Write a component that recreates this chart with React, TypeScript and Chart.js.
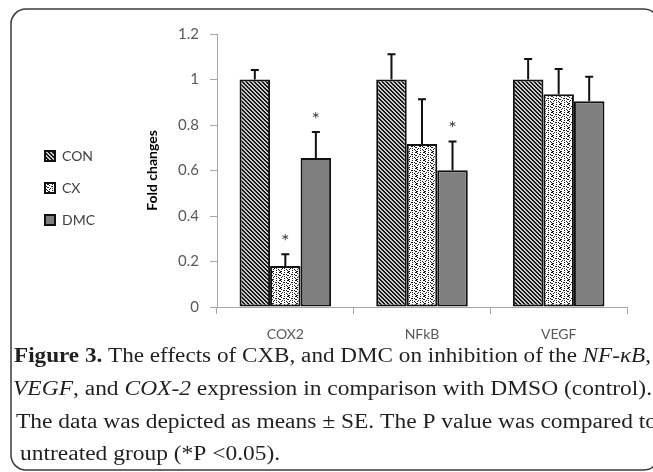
import React, { useEffect, useRef } from "react";
import { Chart, registerables } from "chart.js";

Chart.register(...registerables);

// ---------- data ----------
const categories = ["COX2", "NFkB", "VEGF"];
const seriesNames = ["CON", "CX", "DMC"];
const conValues = [1.0, 1.0, 1.0];
const cxValues = [0.18, 0.716, 0.935];
const dmcValues = [0.655, 0.601, 0.904];
const conErrors = [0.042, 0.111, 0.09];
const cxErrors = [0.052, 0.197, 0.111];
const dmcErrors = [0.114, 0.127, 0.108];
const conSignificant = [false, false, false];
const cxSignificant = [true, false, false];
const dmcSignificant = [true, true, false];
const yTickLabels = ["0", "0.2", "0.4", "0.6", "0.8", "1", "1.2"];
const yTitle = "Fold changes";

type Seg = { text: string; bold?: boolean; italic?: boolean };
const captionLine1: Seg[] = [
  { text: "Figure 3.", bold: true },
  { text: " The effects of CXB, and DMC on inhibition of the " },
  { text: "NF-\u03BAB", italic: true },
  { text: "," },
];
const captionLine2: Seg[] = [
  { text: "VEGF", italic: true },
  { text: ", and " },
  { text: "COX-2", italic: true },
  { text: " expression in comparison with DMSO (control)." },
];
const captionLine3: Seg[] = [
  { text: "The data was depicted as means \u00B1 SE. The P value was compared to" },
];
const captionLine4: Seg[] = [{ text: "untreated group (*P <0.05)." }];
const captionLines = [captionLine1, captionLine2, captionLine3, captionLine4];

// ---------- styling / layout (not data) ----------
const W = 653;
const H = 472;
const captionPlacement = [
  { left: 14, right: 651, baseline: 362 },
  { left: 13, right: 652, baseline: 395 },
  { left: 16, right: 657, baseline: 428 },
  { left: 20, right: 0, baseline: 460 },
];
const CAPTION_SIZE = 20;
const SERIF = "'Liberation Serif', 'Times New Roman', serif";
const SANS = "Lato, 'Open Sans', sans-serif";

function makePattern(ctx: CanvasRenderingContext2D, rows: string[], fg: string, bg: string) {
  const c = document.createElement("canvas");
  c.width = rows[0].length;
  c.height = rows.length;
  const g = c.getContext("2d")!;
  g.fillStyle = bg;
  g.fillRect(0, 0, c.width, c.height);
  g.fillStyle = fg;
  rows.forEach((r, y) =>
    r.split("").forEach((ch, x) => {
      if (ch === "X") g.fillRect(x, y, 1, 1);
    })
  );
  return ctx.createPattern(c, "repeat") as CanvasPattern;
}

function fontFor(seg: Seg) {
  return `${seg.italic ? "italic " : ""}${seg.bold ? "bold " : ""}${CAPTION_SIZE}px ${SERIF}`;
}

const framePlugin = {
  id: "frame",
  beforeDraw(chart: any) {
    const ctx = chart.ctx as CanvasRenderingContext2D;
    ctx.save();
    ctx.fillStyle = "#ffffff";
    ctx.fillRect(0, 0, W, H);
    ctx.strokeStyle = "#3a3a3a";
    ctx.lineWidth = 1.5;
    ctx.beginPath();
    (ctx as any).roundRect(11, 9, 648, 461, 15);
    ctx.stroke();
    ctx.restore();
  },
};

const errorBarPlugin = {
  id: "errorBars",
  afterDatasetsDraw(chart: any) {
    const ctx = chart.ctx as CanvasRenderingContext2D;
    const yScale = chart.scales.y;
    const errs = [conErrors, cxErrors, dmcErrors];
    const sig = [conSignificant, cxSignificant, dmcSignificant];
    const vals = [conValues, cxValues, dmcValues];
    ctx.save();
    chart.data.datasets.forEach((ds: any, di: number) => {
      const meta = chart.getDatasetMeta(di);
      meta.data.forEach((bar: any, i: number) => {
        const v = vals[di][i];
        const e = errs[di][i];
        const yTop = yScale.getPixelForValue(v + e);
        const yBar = yScale.getPixelForValue(v);
        ctx.strokeStyle = "#111";
        ctx.lineWidth = 2;
        ctx.beginPath();
        ctx.moveTo(bar.x, yBar);
        ctx.lineTo(bar.x, yTop);
        ctx.moveTo(bar.x - 4, yTop);
        ctx.lineTo(bar.x + 4, yTop);
        ctx.stroke();
        if (sig[di][i]) {
          ctx.fillStyle = "#404040";
          ctx.font = `20px ${SANS}`;
          ctx.textAlign = "center";
          ctx.textBaseline = "alphabetic";
          ctx.fillText("*", bar.x, yTop - 6);
        }
      });
    });
    ctx.restore();
  },
};

const captionPlugin = {
  id: "caption",
  afterDraw(chart: any) {
    const ctx = chart.ctx as CanvasRenderingContext2D;
    ctx.save();
    ctx.fillStyle = "#231f20";
    ctx.textBaseline = "alphabetic";
    ctx.textAlign = "left";
    let lastScale = 1;
    captionLines.forEach((segs, li) => {
      const place = captionPlacement[li];
      const widths = segs.map((s) => {
        ctx.font = fontFor(s);
        return ctx.measureText(s.text).width;
      });
      const total = widths.reduce((a, b) => a + b, 0);
      const sc = place.right ? (place.right - place.left) / total : lastScale;
      lastScale = sc;
      ctx.save();
      ctx.translate(place.left, place.baseline);
      ctx.scale(sc, 1);
      let x = 0;
      segs.forEach((s, i) => {
        ctx.font = fontFor(s);
        ctx.fillText(s.text, x, 0);
        x += widths[i];
      });
      ctx.restore();
    });
    ctx.restore();
  },
};

export default function App() {
  const ref = useRef<HTMLCanvasElement>(null);
  useEffect(() => {
    const canvas = ref.current!;
    const ctx = canvas.getContext("2d")!;
    const conPattern = makePattern(ctx, ["XX..", ".XX.", "..XX", "X..X"], "#1a1a1a", "#c8c8c8");
    const cxPattern = makePattern(
      ctx,
      ["X...X..X", ".X......", "...XX.X.", "X......X", "..X.X...", ".X....X.", "....X..X", "XX......"],
      "#1a1a1a",
      "#ffffff"
    );
    const dmcFill = "#7f7f7f";
    const chart = new Chart(canvas, {
      type: "bar",
      data: {
        labels: categories,
        datasets: [
          { label: seriesNames[0], data: conValues, backgroundColor: conPattern, borderColor: "#111", borderWidth: 2, borderSkipped: false },
          { label: seriesNames[1], data: cxValues, backgroundColor: cxPattern, borderColor: "#111", borderWidth: 2, borderSkipped: false },
          { label: seriesNames[2], data: dmcValues, backgroundColor: dmcFill, borderColor: "#111", borderWidth: 2, borderSkipped: false },
        ] as any,
      },
      options: {
        responsive: false,
        animation: false,
        devicePixelRatio: 1,
        layout: { padding: { left: 27, top: 34, right: 26, bottom: 130 } },
        datasets: { bar: { categoryPercentage: 0.67, barPercentage: 1.0 } },
        plugins: {
          tooltip: { enabled: false },
          legend: {
            position: "left",
            align: "center",
            labels: {
              boxWidth: 10,
              boxHeight: 10,
              padding: 18,
              color: "#404040",
              font: { family: SANS, size: 14 },
            },
          },
        },
        scales: {
          x: {
            grid: { drawOnChartArea: false, tickLength: 7, color: "#a6a6a6", offset: true },
            border: { color: "#a6a6a6" },
            ticks: { padding: 12, color: "#595959", font: { family: SANS, size: 14 } },
            afterFit: (s: any) => {
              s.height = 35;
            },
          },
          y: {
            min: 0,
            max: 1.2,
            ticks: {
              stepSize: 0.2,
              padding: 11,
              color: "#595959",
              font: { family: SANS, size: 15 },
              callback: (_v: any, i: number) => yTickLabels[i],
            },
            grid: { drawOnChartArea: false, tickLength: 7, color: "#a6a6a6" },
            border: { color: "#a6a6a6" },
            title: {
              display: true,
              text: yTitle,
              color: "#000",
              font: { family: SANS, size: 14, weight: "bold" },
              padding: { top: 39, bottom: 0 },
            },
            afterFit: (s: any) => {
              const lw = s.chart.legend ? s.chart.legend.width : 66;
              s.width = 217 - 27 - lw;
            },
          },
        },
      } as any,
      plugins: [framePlugin, errorBarPlugin, captionPlugin],
    });
    return () => chart.destroy();
  }, []);
  return (
    <div style={{ position: "fixed", left: 0, top: 0, width: W, height: H }}>
      <canvas ref={ref} width={W} height={H} style={{ display: "block", width: W, height: H }} />
    </div>
  );
}
